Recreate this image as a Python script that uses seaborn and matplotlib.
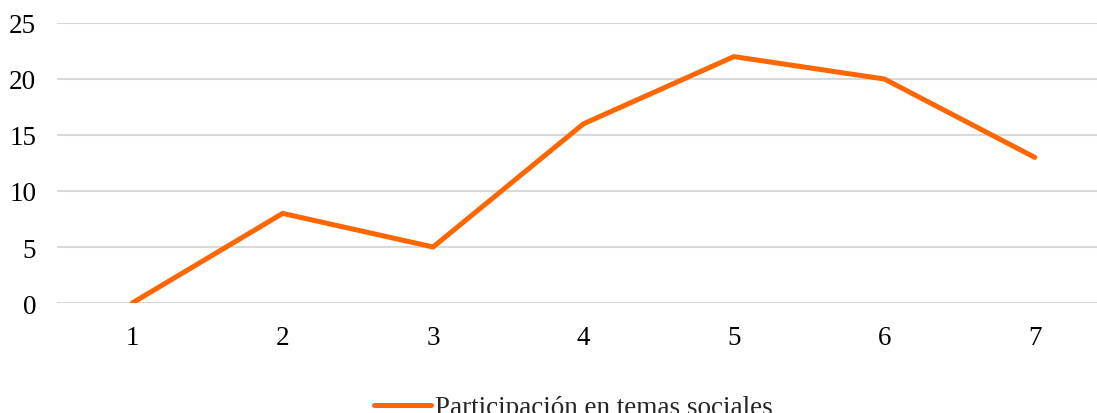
import matplotlib
matplotlib.use("Agg")
import matplotlib.pyplot as plt
import seaborn as sns
import pandas as pd

categories = [1, 2, 3, 4, 5, 6, 7]
values = [0, 8, 5, 16, 22, 20, 13]
series_name = "Participación en temas sociales"
yticks = [0, 5, 10, 15, 20, 25]

sns.set_theme(style="white")
plt.rcParams['font.family'] = ['Liberation Serif', 'DejaVu Serif']

df = pd.DataFrame({"x": categories, "y": values, "s": series_name})

W, H = 1097, 414
fig = plt.figure(figsize=(W / 100, H / 100), dpi=100)
left, right, bottom, top = 57, 1110, 304, 24
ax = fig.add_axes([left / W, 1 - bottom / H, (right - left) / W, (bottom - top) / H])

sns.lineplot(data=df, x="x", y="y", hue="s", palette=["#FF6600"], linewidth=3.6,
             ax=ax, legend=False, solid_capstyle="round")

ax.set_xlim(0.5, 7.5)
ax.set_ylim(0, 25)
ax.set_yticks(yticks)
ax.set_xticks(categories)
ax.set_xticklabels([str(c) for c in categories])
ax.grid(axis="y", color="#d9d9d9", linewidth=1.5)
ax.set_axisbelow(True)
for s in ax.spines.values():
    s.set_visible(False)
ax.tick_params(axis="both", length=0, labelsize=19.5, colors="#000000")
ax.tick_params(axis="y", pad=15)
ax.tick_params(axis="x", pad=16)
ax.set_xlabel("")
ax.set_ylabel("")

from matplotlib.lines import Line2D
h = Line2D([], [], color="#FF6600", linewidth=3.6, solid_capstyle="round")
fig.legend([h], [series_name], loc="center", bbox_to_anchor=(573 / W, 1 - 409 / H),
           frameon=False, fontsize=19.5, handlelength=2.1, handletextpad=0.15)

fig.savefig("out.png", dpi=100)
